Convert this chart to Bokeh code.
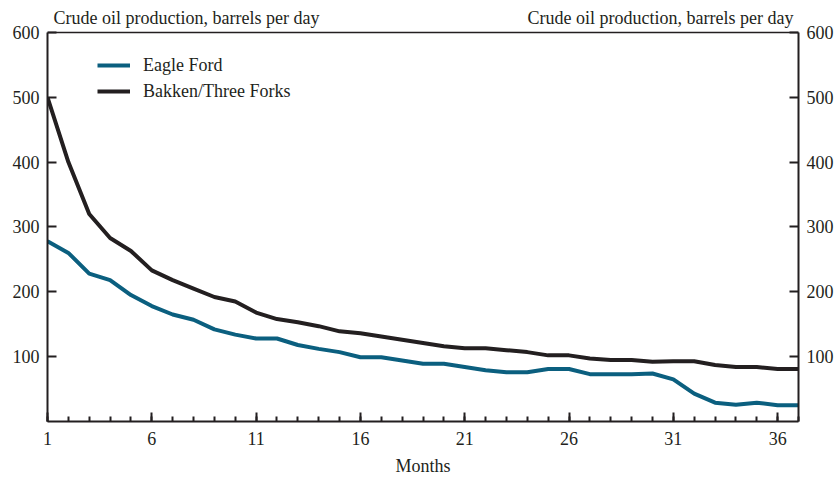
from bokeh.plotting import figure
from bokeh.models import (LinearAxis, FixedTicker, Range1d, Label, Legend, LegendItem,
                          ColumnDataSource, Span)
from bokeh.embed import file_html
from bokeh.resources import INLINE

months = list(range(1, 38))
eagle_ford = [278, 260, 228, 218, 195, 178, 165, 157, 142, 134,
              128, 128, 118, 112, 107, 99, 99, 94, 89, 89,
              84, 79, 76, 76, 81, 81, 73, 73, 73, 74,
              65, 43, 29, 26, 29, 25, 25]
bakken = [500, 400, 320, 283, 263, 233, 218, 205, 192, 185,
          168, 158, 153, 147, 139, 136, 131, 126, 121, 116,
          113, 113, 110, 107, 102, 102, 97, 95, 95, 92,
          93, 93, 87, 84, 84, 81, 81]
x_major_ticks = [1, 6, 11, 16, 21, 26, 31, 36]
y_ticks = [100, 200, 300, 400, 500, 600]
y_title = "Crude oil production, barrels per day"
x_title = "Months"
series_names = ["Eagle Ford", "Bakken/Three Forks"]

FONT = "Liberation Serif"
TXT = "#231f20"
BLUE = "#0b5f7f"
BLACK = "#231f20"

# layout (pixels)
W, H = 836, 478
FRAME_TOP = 2          # frame top (extra headroom for the titles)
TOP_LINE = 32          # where y=600 sits
BOTTOM = 422           # where y=0 sits
Y_MAX = 600
y_end = Y_MAX + (TOP_LINE - FRAME_TOP) * Y_MAX / (BOTTOM - TOP_LINE)

p = figure(width=W, height=H, output_backend="svg", toolbar_location=None,
           x_range=Range1d(1, 37), y_range=Range1d(0, y_end),
           min_border_left=47, min_border_right=38, min_border_top=FRAME_TOP,
           min_border_bottom=H - BOTTOM,
           y_axis_location=None, x_axis_location=None)
p.grid.visible = False
p.outline_line_color = None
p.background_fill_color = "white"
p.border_fill_color = "white"

src = ColumnDataSource(dict(m=months, ef=eagle_ford, bk=bakken))
r_ef = p.line("m", "ef", source=src, line_color=BLUE, line_width=4, line_join="round")
r_bk = p.line("m", "bk", source=src, line_color=BLACK, line_width=4, line_join="round")

p.add_layout(Span(location=Y_MAX, dimension="width", line_color=BLACK, line_width=1.5))

def style_axis(ax):
    ax.axis_line_color = BLACK
    ax.axis_line_width = 2
    ax.major_tick_line_color = BLACK
    ax.major_tick_line_width = 2
    ax.minor_tick_line_color = BLACK
    ax.minor_tick_line_width = 2
    ax.major_label_text_font = FONT
    ax.major_label_text_font_size = "18px"
    ax.major_label_text_color = TXT
    ax.axis_label_text_font = FONT
    ax.axis_label_text_font_size = "18px"
    ax.axis_label_text_font_style = "normal"
    ax.axis_label_text_color = TXT

xb = LinearAxis(ticker=FixedTicker(ticks=x_major_ticks, minor_ticks=months),
                axis_label=x_title)
style_axis(xb)
xb.major_tick_in = 9
xb.major_tick_out = 0
xb.minor_tick_in = 5
xb.minor_tick_out = 0
xb.major_label_standoff = 10
xb.axis_label_standoff = 8
xb.axis_label_text_line_height = 0.9
p.add_layout(xb, "below")

for side in ("left", "right"):
    ya = LinearAxis(ticker=FixedTicker(ticks=y_ticks, minor_ticks=[]), bounds=(0, Y_MAX))
    style_axis(ya)
    ya.major_tick_in = 9
    ya.major_tick_out = 0
    ya.minor_tick_in = 0
    ya.minor_tick_out = 0
    ya.major_label_standoff = 8
    p.add_layout(ya, side)

p.add_layout(Label(x=1, y=Y_MAX, x_offset=6, y_offset=4, text=y_title,
                   text_font=FONT, text_font_size="18px", text_color=TXT,
                   text_align="left", text_baseline="bottom"))
p.add_layout(Label(x=37, y=Y_MAX, x_offset=-5, y_offset=4, text=y_title,
                   text_font=FONT, text_font_size="18px", text_color=TXT,
                   text_align="right", text_baseline="bottom"))

frame_h = BOTTOM - FRAME_TOP
legend = Legend(items=[LegendItem(label=series_names[0], renderers=[r_ef]),
                       LegendItem(label=series_names[1], renderers=[r_bk])],
                location=(50, frame_h - 51 - 52), orientation="vertical")
legend.padding = 0
legend.margin = 0
legend.spacing = 0
legend.glyph_width = 33
legend.glyph_height = 26
legend.label_height = 26
legend.label_standoff = 13
legend.label_text_font = FONT
legend.label_text_font_size = "18px"
legend.label_text_color = TXT
legend.background_fill_alpha = 0
legend.border_line_alpha = 0
p.add_layout(legend, "center")

open("out.html", "w").write(file_html(p, INLINE))
